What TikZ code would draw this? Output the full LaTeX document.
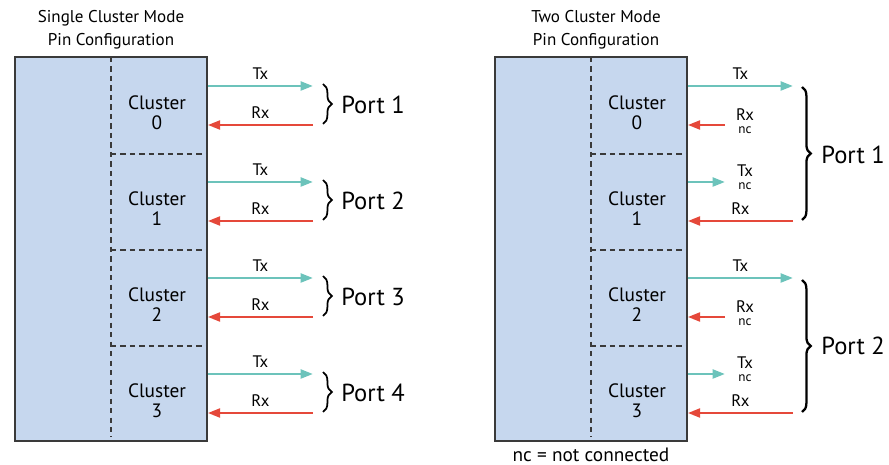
\documentclass[tikz,border=0pt]{standalone}
\usepackage{fontspec}
\setmainfont{PT Sans}
\usetikzlibrary{arrows.meta,decorations.pathreplacing}

\definecolor{chipblue}{HTML}{C6D7EE}
\definecolor{txteal}{HTML}{6CC3BB}
\definecolor{rxred}{HTML}{E5483A}
\definecolor{edgegray}{HTML}{3A3A3A}

\newcommand{\nctext}{{\fontsize{7.5}{7.5}\selectfont nc}}

\tikzset{
  chip/.style={fill=chipblue, draw=edgegray, line width=0.9pt, inner sep=0pt},
  divider/.style={draw=edgegray, line width=0.8pt, dash pattern=on 3pt off 2.4pt},
  txline/.style={draw=txteal, line width=1.5pt, -{Triangle[length=7pt,width=5pt]}},
  rxline/.style={draw=rxred, line width=1.5pt, -{Triangle[length=7pt,width=5pt]}},
  clusterlabel/.style={align=center, font=\fontsize{11}{11.5}\selectfont, inner sep=0pt},
  sig/.style={font=\fontsize{9.5}{10}\selectfont, inner sep=0pt},
  ncsig/.style={align=center, font=\fontsize{9.5}{7.2}\selectfont, inner sep=0pt},
  portbrace/.style={decorate, decoration={brace, amplitude=5pt}, line width=1pt},
  portlabel/.style={font=\fontsize{14}{16}\selectfont, anchor=west, inner sep=0pt},
  title/.style={align=center, font=\fontsize{9.7}{13}\selectfont, inner sep=0pt}
}

\begin{document}
\begin{tikzpicture}[x=0.02cm, y=-0.02cm]
        \useasboundingbox (0,0) rectangle (889,465);

        % single cluster mode
        \node[title] (title1) at (111,30) {Single Cluster Mode\\Pin Configuration};
        \node[chip, minimum width=3.84cm, minimum height=7.68cm] (single) at (111,249) {};
        \draw[divider] (111,57) -- (111,437);
        \draw[divider] (111,154) -- (207,154);
        \draw[divider] (111,250) -- (207,250);
        \draw[divider] (111,346) -- (207,346);

        \node[clusterlabel] (s0) at (157,113) {Cluster\\0};
        \node[clusterlabel] (s1) at (157,209) {Cluster\\1};
        \node[clusterlabel] (s2) at (157,305) {Cluster\\2};
        \node[clusterlabel] (s3) at (157,401) {Cluster\\3};

        \coordinate (s0tx) at (313,86);
        \coordinate (s0rx) at (313,125);
        \coordinate (s1tx) at (313,182);
        \coordinate (s1rx) at (313,221);
        \coordinate (s2tx) at (313,278);
        \coordinate (s2rx) at (313,317);
        \coordinate (s3tx) at (313,374);
        \coordinate (s3rx) at (313,413);

        \draw[txline] (single.east |- s0tx) -- node[sig, above=3pt] {Tx} (s0tx);
        \draw[rxline] (s0rx) -- node[sig, above=3pt] {Rx} (single.east |- s0rx);
        \draw[txline] (single.east |- s1tx) -- node[sig, above=3pt] {Tx} (s1tx);
        \draw[rxline] (s1rx) -- node[sig, above=3pt] {Rx} (single.east |- s1rx);
        \draw[txline] (single.east |- s2tx) -- node[sig, above=3pt] {Tx} (s2tx);
        \draw[rxline] (s2rx) -- node[sig, above=3pt] {Rx} (single.east |- s2rx);
        \draw[txline] (single.east |- s3tx) -- node[sig, above=3pt] {Tx} (s3tx);
        \draw[rxline] (s3rx) -- node[sig, above=3pt] {Rx} (single.east |- s3rx);

        \draw[portbrace] (323,84) -- (323,124);
        \draw[portbrace] (323,180) -- (323,220);
        \draw[portbrace] (323,276) -- (323,316);
        \draw[portbrace] (323,372) -- (323,412);
        \node[portlabel] (port1) at (341,105) {Port 1};
        \node[portlabel] (port2) at (341,201) {Port 2};
        \node[portlabel] (port3) at (341,297) {Port 3};
        \node[portlabel] (port4) at (341,393) {Port 4};

        % two cluster mode
        \node[title] (title2) at (596,30) {Two Cluster Mode\\Pin Configuration};
        \node[chip, minimum width=3.84cm, minimum height=7.68cm] (dual) at (591,249) {};
        \draw[divider] (591,57) -- (591,437);
        \draw[divider] (591,154) -- (687,154);
        \draw[divider] (591,250) -- (687,250);
        \draw[divider] (591,346) -- (687,346);

        \node[clusterlabel] (d0) at (637,113) {Cluster\\0};
        \node[clusterlabel] (d1) at (637,209) {Cluster\\1};
        \node[clusterlabel] (d2) at (637,305) {Cluster\\2};
        \node[clusterlabel] (d3) at (637,401) {Cluster\\3};

        \coordinate (d0tx) at (793,86);
        \coordinate (d0rx) at (725,125);
        \coordinate (d1tx) at (725,182);
        \coordinate (d1rx) at (793,221);
        \coordinate (d2tx) at (793,278);
        \coordinate (d2rx) at (725,317);
        \coordinate (d3tx) at (725,374);
        \coordinate (d3rx) at (793,413);

        \draw[txline] (dual.east |- d0tx) -- node[sig, above=3pt] {Tx} (d0tx);
        \draw[rxline] (d0rx) -- (dual.east |- d0rx);
        \node[ncsig] (d0rxlab) at (745,121) {Rx\\\nctext};
        \draw[txline] (dual.east |- d1tx) -- (d1tx);
        \node[ncsig] (d1txlab) at (745,177) {Tx\\\nctext};
        \draw[rxline] (d1rx) -- node[sig, above=3pt] {Rx} (dual.east |- d1rx);

        \draw[txline] (dual.east |- d2tx) -- node[sig, above=3pt] {Tx} (d2tx);
        \draw[rxline] (d2rx) -- (dual.east |- d2rx);
        \node[ncsig] (d2rxlab) at (745,313) {Rx\\\nctext};
        \draw[txline] (dual.east |- d3tx) -- (d3tx);
        \node[ncsig] (d3txlab) at (745,369) {Tx\\\nctext};
        \draw[rxline] (d3rx) -- node[sig, above=3pt] {Rx} (dual.east |- d3rx);

        \draw[portbrace, line width=1.3pt] (802,87) -- (802,220);
        \draw[portbrace, line width=1.3pt] (802,280) -- (802,412);
        \node[portlabel] (dport1) at (821,155) {Port 1};
        \node[portlabel] (dport2) at (821,346) {Port 2};

        \node[font=\fontsize{11}{12}\selectfont, inner sep=0pt] (nckey) at (591,455) {nc = not connected};

\end{tikzpicture}
\end{document}
